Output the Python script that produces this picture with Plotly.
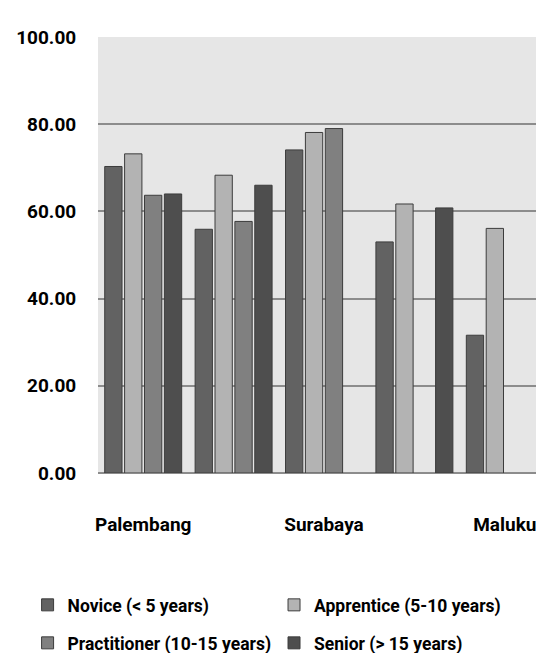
import plotly.graph_objects as go

# data
regions = ["Palembang", "", "Surabaya", "", "Maluku"]  # 2nd/4th labels hidden in original
region_pos = [0, 1, 2, 3, 4]

novice = [70.3, 55.9, 74.1, 53.0, 31.6]
apprentice = [73.2, 68.3, 78.1, 61.7, 56.1]
practitioner = [63.7, 57.7, 79.0, None, None]
senior = [64.0, 66.0, None, 60.8, None]

series_names = [
    "Novice (< 5 years)",
    "Apprentice (5-10 years)",
    "Practitioner (10-15 years)",
    "Senior (> 15 years)",
]
series_vals = [novice, apprentice, practitioner, senior]
series_cols = ["#626262", "#b3b3b3", "#808080", "#4e4e4e"]

y_ticks = [0, 20, 40, 60, 80, 100]

fnt = "Roboto, Liberation Sans, sans-serif"

fig = go.Figure()

# one legend box per entry so the 2x2 legend grid can be placed like the original
leg_ids = ["legend", "legend2", "legend3", "legend4"]
leg_xy = [(0.036, 0.0858), (0.489, 0.0858), (0.036, 0.0276), (0.489, 0.0276)]

for nm, vals, col, lg in zip(series_names, series_vals, series_cols, leg_ids):
    fig.add_trace(go.Bar(
        x=region_pos,
        y=vals,
        name=nm,
        legend=lg,
        showlegend=True,
        marker=dict(color=col, line=dict(color="#3c3c3c", width=1)),
    ))

for lg, (lx, ly) in zip(leg_ids, leg_xy):
    fig.update_layout({lg: dict(
        xref="container",
        yref="container",
        x=lx,
        y=ly,
        xanchor="left",
        yanchor="middle",
        itemwidth=30,
        bgcolor="rgba(0,0,0,0)",
        font=dict(size=17.5, family=fnt, weight="bold"),
    )})

fig.update_layout(
    width=544,
    height=653,
    showlegend=True,
    barmode="group",
    bargap=0.12,
    bargroupgap=0.13,
    plot_bgcolor="#e6e6e6",
    paper_bgcolor="white",
    margin=dict(l=90, r=2, t=29, b=188, autoexpand=False),
    font=dict(family=fnt, color="black"),
)

fig.update_xaxes(
    range=[-0.5, 4.5],
    tickvals=[p for p, r in zip(region_pos, regions) if r],
    ticktext=[r for r in regions if r],
    ticks="outside",
    ticklen=34,
    tickcolor="rgba(0,0,0,0)",
    tickfont=dict(size=19, family=fnt, weight="bold"),
    showline=False,
    showgrid=False,
    zeroline=False,
    automargin=False,
)

fig.update_yaxes(
    range=[0, 100],
    tickvals=y_ticks,
    ticktext=["%.2f" % v for v in y_ticks],
    ticks="outside",
    ticklen=17,
    tickcolor="rgba(0,0,0,0)",
    tickfont=dict(size=19, family=fnt, weight="bold"),
    showgrid=True,
    gridcolor="#8c8c8c",
    gridwidth=1.5,
    zeroline=True,
    zerolinecolor="#8c8c8c",
    zerolinewidth=1.5,
    automargin=False,
)

fig.write_html("out.html")
